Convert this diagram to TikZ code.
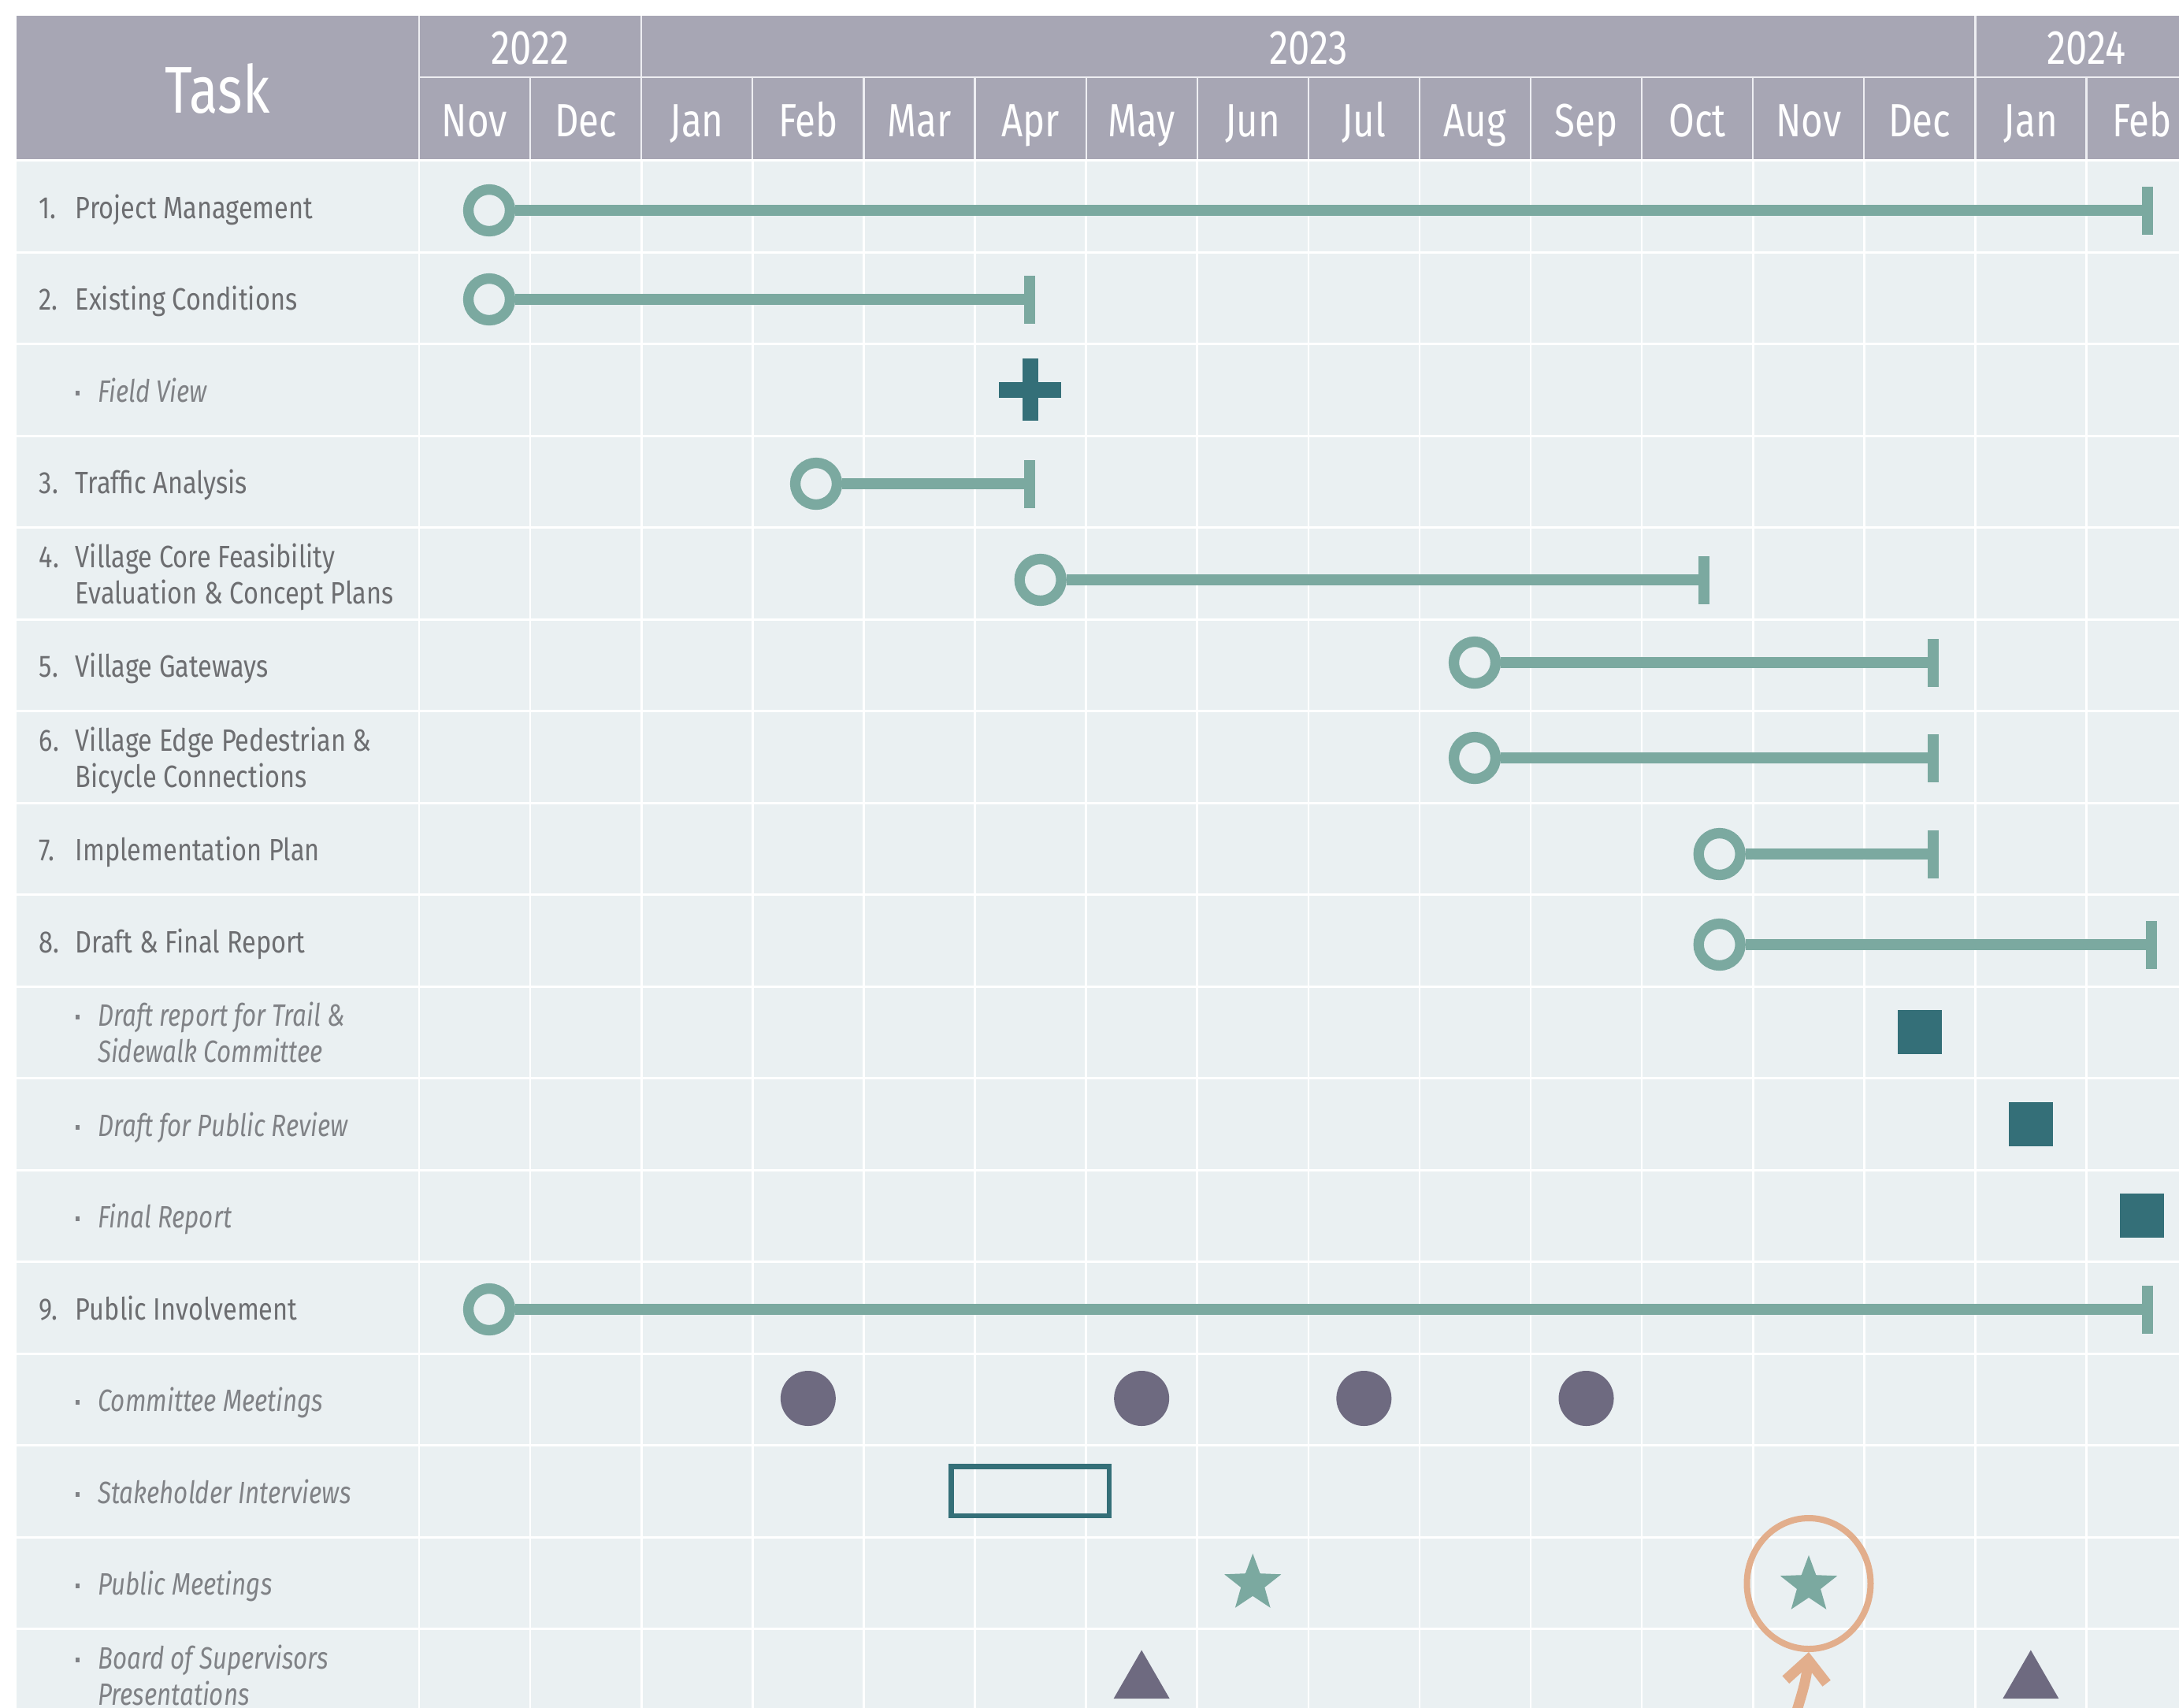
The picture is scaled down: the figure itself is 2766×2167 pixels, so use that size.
\documentclass[tikz,border=0pt]{standalone}
\usepackage{fontspec}
\setmainfont{Fira Sans}[FakeStretch=0.83]
\newfontfamily\hdfont{Fira Sans}[FakeStretch=0.8]
\newfontfamily\subfont{Fira Sans}[FakeStretch=0.80]
\usetikzlibrary{shapes.geometric,arrows.meta}
\definecolor{hdr}{HTML}{A7A6B4}
\definecolor{hdline}{HTML}{EEEEF2}
\definecolor{cell}{HTML}{EAF0F2}
\definecolor{barc}{HTML}{7BA9A0}
\definecolor{dkteal}{HTML}{346F78}
\definecolor{mauve}{HTML}{6E6A80}
\definecolor{peach}{HTML}{E2AE8C}
\definecolor{txt}{HTML}{6D6E71}
\definecolor{subtxt}{HTML}{808286}
\newlength\pxu
\setlength\pxu{0.25pt}
\tikzset{
  startc/.style={circle, draw=barc, fill=cell, line width=13.3\pxu, minimum size=53\pxu, inner sep=0pt},
  endtick/.style={rectangle, fill=barc, minimum width=13.3\pxu, minimum height=61\pxu, inner sep=0pt},
  barline/.style={draw=barc, line width=13.3\pxu},
  deliv/.style={rectangle, fill=dkteal, minimum size=56\pxu, inner sep=0pt},
  meet/.style={circle, fill=mauve, minimum size=70\pxu, inner sep=0pt},
  pstar/.style={star, star points=5, star point ratio=2.4, fill=barc, minimum size=76\pxu, inner sep=0pt},
  bos/.style={regular polygon, regular polygon sides=3, fill=mauve, minimum size=82\pxu, inner sep=0pt},
  tasktext/.style={anchor=base west, text=txt, inner sep=0pt, font=\fontsize{9.8}{11.5}\selectfont},
  subtext/.style={anchor=base west, text=subtxt, inner sep=0pt, font=\subfont\fontsize{9.8}{11.5}\selectfont\itshape},
  hdtext/.style={anchor=base, text=white, inner sep=0pt, font=\hdfont\fontsize{14.8}{16}\selectfont},
  rowline/.style={white, line width=3\pxu},
  colline/.style={white, line width=2.6\pxu},
  hline/.style={hdline, line width=2.2\pxu}
}
\newcommand{\numbox}[1]{\makebox[11.5pt][l]{#1}}
\newcommand{\bulbox}{\makebox[7.6pt][l]{\hspace{0.6pt}\raisebox{2pt}{\rule{1.3pt}{1.4pt}}}}
\begin{document}
\begin{tikzpicture}[x=0.25pt, y=-0.25pt]
\clip (0,0) rectangle (2766,2167);
\fill[white] (0,0) rectangle (2766,2167);
% header
\fill[hdr] (21,20) rectangle (2800,202);
\fill[cell] (21,203.5) rectangle (2800,2200);
% body grid
\foreach \i in {0,...,17} \draw[rowline] (21,{203.5+\i*116.5}) -- (2800,{203.5+\i*116.5});
\foreach \k in {0,...,15} \draw[colline] ({532+\k*141.1},203.5) -- ({532+\k*141.1},2200);
% header grid
\draw[hline] (532,20) -- (532,202);
\draw[hline] (532,98) -- (2800,98);
\draw[hline] (814.2,20) -- (814.2,202);
\draw[hline] (2507.4,20) -- (2507.4,202);
\foreach \k in {1,3,4,5,6,7,8,9,10,11,12,13,15} \draw[hline] ({532+\k*141.1},98) -- ({532+\k*141.1},202);
% header text
\node[hdtext, font=\hdfont\fontsize{21}{24}\selectfont] (htask) at (276,143) {Task};
\node[hdtext, font=\hdfont\fontsize{15.3}{16}\selectfont] (y22) at (673,81) {2022};
\node[hdtext, font=\hdfont\fontsize{15.3}{16}\selectfont] (y23) at (1660.8,81) {2023};
\node[hdtext, font=\hdfont\fontsize{15.3}{16}\selectfont] (y24) at (2648.5,81) {2024};
\foreach \m [count=\k from 0] in {Nov,Dec,Jan,Feb,Mar,Apr,May,Jun,Jul,Aug,Sep,Oct,Nov,Dec,Jan,Feb}
  \node[hdtext] (mo\k) at ({532+(\k+0.5)*141.1},173) {\m};
% task texts
\node[tasktext] (t1) at (49,277) {\numbox{1.}Project Management};
\node[tasktext] (t2) at (49,393) {\numbox{2.}Existing Conditions};
\node[subtext] (t3) at (93,510) {\bulbox Field View};
\node[tasktext] (t4) at (49,626) {\numbox{3.}Traffic Analysis};
\node[tasktext] (t5) at (49,720) {\begin{tabular}[t]{@{}l@{}l@{}}\numbox{4.}&Village Core Feasibility\\&Evaluation \& Concept Plans\end{tabular}};
\node[tasktext] (t6) at (49,859) {\numbox{5.}Village Gateways};
\node[tasktext] (t7) at (49,953) {\begin{tabular}[t]{@{}l@{}l@{}}\numbox{6.}&Village Edge Pedestrian \&\\&Bicycle Connections\end{tabular}};
\node[tasktext] (t8) at (49,1092) {\numbox{7.}Implementation Plan};
\node[tasktext] (t9) at (49,1209) {\numbox{8.}Draft \& Final Report};
\node[subtext] (t10) at (93,1302) {\begin{tabular}[t]{@{}l@{}l@{}}\bulbox&Draft report for Trail \&\\&Sidewalk Committee\end{tabular}};
\node[subtext] (t11) at (93,1442) {\bulbox Draft for Public Review};
\node[subtext] (t12) at (93,1558) {\bulbox Final Report};
\node[tasktext] (t13) at (49,1675) {\numbox{9.}Public Involvement};
\node[subtext] (t14) at (93,1791) {\bulbox Committee Meetings};
\node[subtext] (t15) at (93,1908) {\bulbox Stakeholder Interviews};
\node[subtext] (t16) at (93,2024) {\bulbox Public Meetings};
\node[subtext] (t17) at (93,2118) {\begin{tabular}[t]{@{}l@{}l@{}}\bulbox&Board of Supervisors\\&Presentations\end{tabular}};
% bars
\node[startc] (s1) at (621,267) {};      \node[endtick] (e1) at (2726,267) {};   \draw[barline] (s1) -- (e1);
\node[startc] (s2) at (621,380) {};      \node[endtick] (e2) at (1307,380) {};   \draw[barline] (s2) -- (e2);
\node[startc] (s4) at (1036,614) {};     \node[endtick] (e4) at (1307,614) {};   \draw[barline] (s4) -- (e4);
\node[startc] (s5) at (1320.7,736) {};   \node[endtick] (e5) at (2163,736) {};   \draw[barline] (s5) -- (e5);
\node[startc] (s6) at (1872,841) {};     \node[endtick] (e6) at (2454,841) {};   \draw[barline] (s6) -- (e6);
\node[startc] (s7) at (1872,962) {};     \node[endtick] (e7) at (2454,962) {};   \draw[barline] (s7) -- (e7);
\node[startc] (s8) at (2182.7,1084) {};  \node[endtick] (e8) at (2454,1084) {};  \draw[barline] (s8) -- (e8);
\node[startc] (s9) at (2182.7,1199) {};  \node[endtick] (e9) at (2731,1199) {};  \draw[barline] (s9) -- (e9);
\node[startc] (s13) at (621,1662) {};    \node[endtick] (e13) at (2726,1662) {}; \draw[barline] (s13) -- (e13);
% field view plus
\node[fill=dkteal, minimum width=79\pxu, minimum height=20\pxu, inner sep=0pt] (fvh) at (1307.5,494.5) {};
\node[fill=dkteal, minimum width=20\pxu, minimum height=79\pxu, inner sep=0pt] (fvv) at (1307.5,494.5) {};
% deliverables
\node[deliv] (d10) at (2436.75,1310) {};
\node[deliv] (d11) at (2577.85,1427) {};
\node[deliv] (d12) at (2718.95,1543) {};
% committee meetings
\node[meet] (m1) at (1025.85,1775) {};
\node[meet] (m2) at (1449.15,1775) {};
\node[meet] (m3) at (1731.35,1775) {};
\node[meet] (m4) at (2013.55,1775) {};
% stakeholder interviews
\node[draw=dkteal, line width=6.5\pxu, minimum width=200.5\pxu, minimum height=62.5\pxu, inner sep=0pt] (si) at (1307.5,1892.5) {};
% public meetings
\node[pstar] (pm1) at (1590.25,2010) {};
\node[pstar] (pm2) at (2296,2012) {};
\node[ellipse, draw=peach, line width=8\pxu, minimum width=157\pxu, minimum height=166\pxu, inner sep=0pt] (hl) at (2296,2010) {};
\coordinate (ar) at (2268,2220);
\draw[peach, line width=13\pxu, -{Straight Barb[length=7pt,width=13pt]}] (ar) to[out=78,in=-95] (hl.south);
% board presentations
\node[bos] (b1) at (1449.15,2135.5) {};
\node[bos] (b2) at (2577.85,2135.5) {};
\end{tikzpicture}
\end{document}
